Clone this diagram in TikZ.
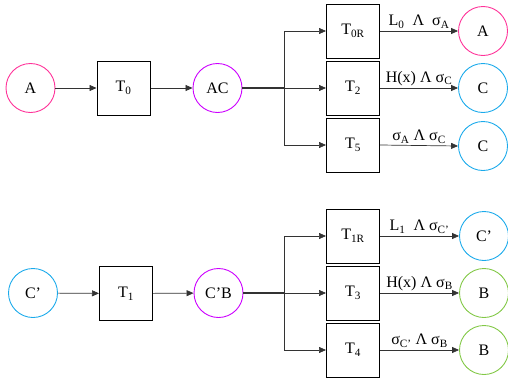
\documentclass[tikz,border=0pt]{standalone}
\usepackage{fontspec}
\setmainfont{Liberation Serif}
\usetikzlibrary{arrows.meta,positioning}
\definecolor{pinkcol}{RGB}{255,51,153}
\definecolor{violetcol}{RGB}{204,0,255}
\definecolor{cyancol}{RGB}{27,170,235}
\definecolor{greencol}{RGB}{130,200,70}
\tikzset{
  place/.style={circle, draw, line width=0.9pt, minimum size=49pt, inner sep=0pt},
  trans/.style={rectangle, draw, line width=1pt, minimum width=53pt, minimum height=54pt, inner sep=0pt},
  flow/.style={-{Triangle[length=7pt,width=6pt]}, line width=0.7pt, black!80},
  trunk/.style={line width=1.4pt, black!80},
  guard/.style={above, inner sep=2pt, text=black},
}
\newcommand{\sub}[1]{\textsubscript{#1}}

\begin{document}
\begin{tikzpicture}[x=1pt, y=-1pt, font=\fontsize{16}{19}\selectfont]
    \useasboundingbox (0,0) rectangle (508,383);
    % upper net
    \node[place, pinkcol, text=black] (A) at (30.5,88) {A};
    \node[trans] (T0) at (123.5,88) {T\sub{0}};
    \node[place, violetcol, text=black] (AC) at (217.5,88) {AC};
    \coordinate (split0) at (284,88);
    \node[trans] (T0R) at (353,31) {T\sub{0R}};
    \node[trans] (T2) at (353,88) {T\sub{2}};
    \node[trans] (T5) at (353,145) {T\sub{5}};
    \node[place, pinkcol, text=black] (outA) at (483,31) {A};
    \node[place, cyancol, text=black] (outC) at (483,88) {C};
    \node[place, cyancol, text=black] (outC2) at (483,146) {C};
    \draw[flow] (A) -- (T0);
    \draw[flow] (T0) -- (AC);
    \draw[trunk] (AC) -- (split0);
    \draw[flow] (split0) |- (T0R);
    \draw[flow] (split0) -- (T2);
    \draw[flow] (split0) |- (T5);
    \draw[flow] (T0R) -- node[guard] (g0R) {L\sub{0}\ \ Λ\ \ σ\sub{A}} (outA);
    \draw[flow] (T2) -- node[guard] (g2) {H(x) Λ σ\sub{C}} (outC);
    \draw[flow] (T5.east) -- node[guard] (g5) {σ\sub{A}\ Λ σ\sub{C}} (outC2.west);
    % lower net
    \node[place, cyancol, text=black] (Cp) at (33,293) {C’};
    \node[trans] (T1) at (126,293.5) {T\sub{1}};
    \node[place, violetcol, text=black] (CpB) at (218.5,293) {C’B};
    \coordinate (split1) at (284,293);
    \node[trans] (T1R) at (353,236) {T\sub{1R}};
    \node[trans] (T3) at (353,293) {T\sub{3}};
    \node[trans] (T4) at (353,350) {T\sub{4}};
    \node[place, cyancol, text=black] (outCp) at (484,236) {C’};
    \node[place, greencol, text=black] (outB) at (484,293) {B};
    \node[place, greencol, text=black] (outB2) at (484,350) {B};
    \draw[flow] (Cp) -- (T1);
    \draw[flow] (T1) -- (CpB);
    \draw[trunk] (CpB) -- (split1);
    \draw[flow] (split1) |- (T1R);
    \draw[flow] (split1) -- (T3);
    \draw[flow] (split1) |- (T4);
    \draw[flow] (T1R) -- node[guard] (g1R) {L\sub{1}\ \ Λ σ\sub{C’}} (outCp);
    \draw[flow] (T3) -- node[guard] (g3) {H(x) Λ σ\sub{B}} (outB);
    \draw[flow] (T4) -- node[guard] (g4) {σ\sub{C’} Λ σ\sub{B}} (outB2);
\end{tikzpicture}
\end{document}
